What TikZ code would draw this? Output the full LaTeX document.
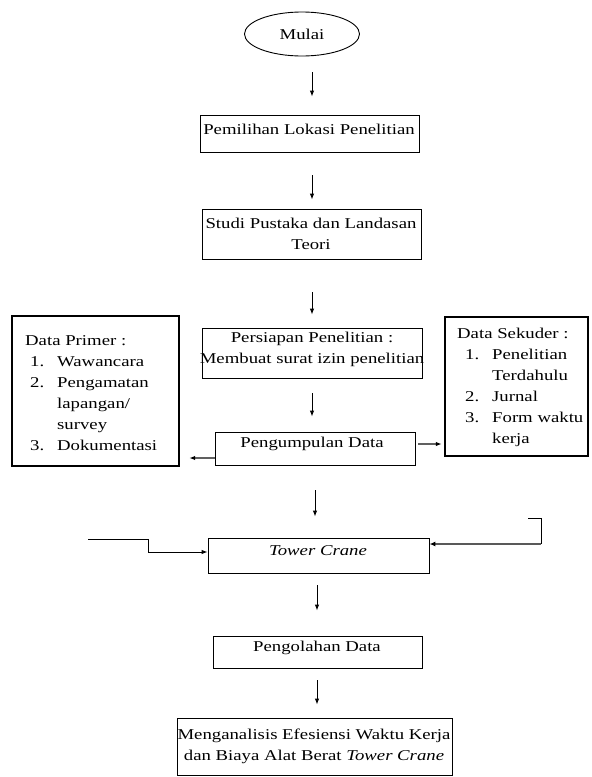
\documentclass[tikz,border=0pt]{standalone}
\usepackage{fontspec}
\setmainfont[FakeStretch=1.25]{Liberation Serif}
\usetikzlibrary{shapes.geometric,arrows.meta,calc}
\begin{document}
\begin{tikzpicture}[x=1pt,y=-1pt,
  box/.style={draw, line width=0.9pt, inner sep=0pt},
  thickbox/.style={draw, line width=2.4pt, inner sep=0pt},
  txt/.style={inner sep=0pt, font=\fontsize{15}{21}\selectfont, align=center},
  arr/.style={-{Latex[length=6pt,width=4.5pt]}, line width=0.9pt},
  garr/.style={-{Latex[length=6pt,width=4.5pt,color=black]}, line width=1.4pt, draw=gray!75!black},
  grarr/.style={-{Latex[length=6pt,width=5pt,color=black]}, line width=2pt, draw=gray!70!black}
]
\useasboundingbox (0,0) rectangle (592,777);

% start
\node[draw, ellipse, line width=0.9pt, minimum width=115pt, minimum height=44pt, inner sep=0pt,
      font=\fontsize{15}{21}\selectfont] (start) at (302,34) {Mulai};

% main boxes
\node[box, minimum width=219pt, minimum height=37pt] (b1) at (309.5,133.5) {};
\node[txt] (t1) at (309,129) {Pemilihan Lokasi Penelitian};

\node[box, minimum width=219pt, minimum height=50pt] (b2) at (311.5,234) {};
\node[txt] (t2) at (311,233.5) {Studi Pustaka dan Landasan\\Teori};

\node[box, minimum width=220pt, minimum height=50pt] (b3) at (312,353) {};
\node[txt] (t3) at (312,349.5) {Persiapan Penelitian :\\Membuat surat izin penelitian};

\node[box, minimum width=200pt, minimum height=33pt] (b4) at (315,448.5) {};
\node[txt] (t4) at (312,444) {Pengumpulan Data};

\node[box, minimum width=221pt, minimum height=35pt] (tc) at (318.5,555.5) {};
\node[txt] (t5) at (318,551) {\itshape Tower Crane};

\node[box, minimum width=209pt, minimum height=32pt] (b6) at (317.5,652) {};
\node[txt] (t6) at (317,648) {Pengolahan Data};

\node[box, minimum width=275pt, minimum height=57pt] (b7) at (314.5,746.5) {};
\node[txt] (t7) at (314,746) {Menganalisis Efesiensi Waktu Kerja\\dan Biaya Alat Berat \textit{Tower Crane}};

% side boxes
\node[thickbox, minimum width=167pt, minimum height=150pt] (pbox) at (95.5,391) {};
\node[txt, anchor=base west] (ptxt) at (25,345) {\begin{tabular}[t]{@{}l@{}}
Data Primer :\\
\hspace*{5pt}\makebox[27pt][l]{1.}Wawancara\\
\hspace*{5pt}\makebox[27pt][l]{2.}Pengamatan\\
\hspace*{5pt}\makebox[27pt][l]{}lapangan/\\
\hspace*{5pt}\makebox[27pt][l]{}survey\\
\hspace*{5pt}\makebox[27pt][l]{3.}Dokumentasi
\end{tabular}};

\node[thickbox, minimum width=143pt, minimum height=139pt] (sbox) at (516.5,386.5) {};
\node[txt, anchor=base west] (stxt) at (457,338) {\begin{tabular}[t]{@{}l@{}}
Data Sekuder :\\
\hspace*{8pt}\makebox[27pt][l]{1.}Penelitian\\
\hspace*{8pt}\makebox[27pt][l]{}Terdahulu\\
\hspace*{8pt}\makebox[27pt][l]{2.}Jurnal\\
\hspace*{8pt}\makebox[27pt][l]{3.}Form waktu\\
\hspace*{8pt}\makebox[27pt][l]{}kerja
\end{tabular}};

% arrow x positions
\coordinate (ax) at (312,0);
\coordinate (bx) at (315,0);
\coordinate (cx) at (317,0);

\draw[arr, shorten <=16pt, shorten >=18pt] (start.south -| ax) -- (b1.north -| ax);
\draw[arr, shorten <=23pt, shorten >=9pt] (b1.south -| ax) -- (b2.north -| ax);
\draw[arr, shorten <=33pt, shorten >=13pt] (b2.south -| ax) -- (b3.north -| ax);
\draw[arr, shorten <=15pt, shorten >=15pt] (b3.south -| ax) -- (b4.north -| ax);
\draw[arr, shorten <=25pt, shorten >=21pt] (b4.south -| bx) -- (tc.north -| bx);
\draw[arr, shorten <=12pt, shorten >=25pt] (tc.south -| cx) -- (b6.north -| cx);
\draw[arr, shorten <=12pt, shorten >=13pt] (b6.south -| cx) -- (b7.north -| cx);

% side arrows
\coordinate (ly) at (0,458);
\coordinate (ry) at (0,444);
\draw[garr, shorten >=9pt] (b4.west |- ly) -- (pbox.east |- ly);
\draw[garr, shorten <=3pt, shorten >=2pt] (b4.east |- ry) -- (sbox.west |- ry);

% inputs to Tower Crane
\coordinate (lin) at (88,539);
\coordinate (lk1) at (148,539);
\coordinate (lk2) at (148,552);
\draw[arr] (lin) -- (lk1) -- (lk2) -- (tc.west |- lk2);

\coordinate (rin) at (528,518);
\coordinate (rk) at (541,544);
\draw[line width=1pt] (rin) -| (rk);
\draw[grarr] (rk) -- (tc.east |- rk);
\end{tikzpicture}
\end{document}
